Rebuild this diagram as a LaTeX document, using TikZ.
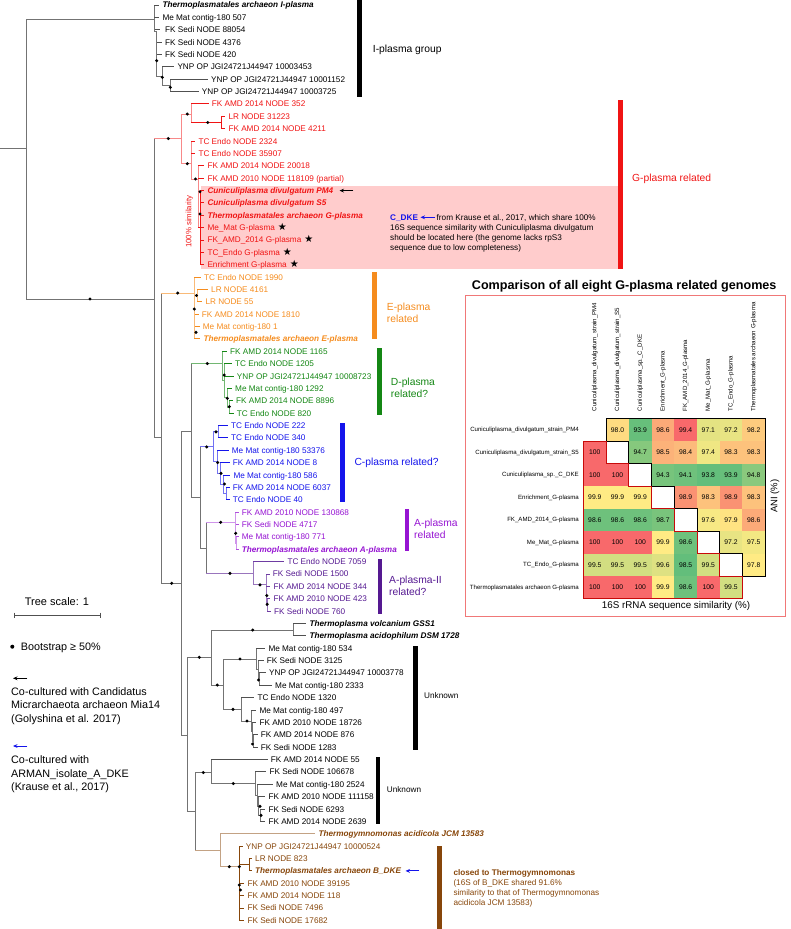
\documentclass[tikz,border=0pt]{standalone}
\usepackage{fontspec}
\setmainfont{Liberation Sans}
\newfontfamily\symfont{DejaVu Sans}
\usetikzlibrary{arrows.meta,calc}
\definecolor{cGray}{RGB}{80,80,80}
\definecolor{cRed}{RGB}{240,20,20}
\definecolor{cOrange}{RGB}{245,140,30}
\definecolor{cGreen}{RGB}{20,135,20}
\definecolor{cBlue}{RGB}{20,20,235}
\definecolor{cViolet}{RGB}{150,20,210}
\definecolor{cPurple}{RGB}{85,25,145}
\definecolor{cBrown}{RGB}{135,70,10}
\definecolor{cPink}{RGB}{255,204,204}
\definecolor{cFrame}{RGB}{240,120,120}
\definecolor{cDkRed}{RGB}{200,10,10}
\tikzset{
 br/.style={line width=1pt, line cap=rect},
 gI/.style={br,draw=cGray!80}, gT/.style={br,draw=cGray},
 rI/.style={br,draw=cRed!50}, rT/.style={br,draw=cRed},
 oI/.style={br,draw=cOrange!60}, oT/.style={br,draw=cOrange},
 dI/.style={br,draw=cGreen!60}, dT/.style={br,draw=cGreen},
 cI/.style={br,draw=cBlue!60}, cT/.style={br,draw=cBlue},
 aI/.style={br,draw=cViolet!45}, aT/.style={br,draw=cViolet!75},
 pI/.style={br,draw=cPurple!60}, pT/.style={br,draw=cPurple!85},
 bI/.style={br,draw=cBrown!50}, bT/.style={br,draw=cBrown},
 lab/.style={anchor=base west, inner sep=0pt, font=\fontsize{8.2}{9}\selectfont},
 bi/.style={font=\fontsize{8.2}{9}\selectfont\bfseries\itshape},
 rc/.style={text=cRed}, oc/.style={text=cOrange}, dc/.style={text=cGreen},
 cc/.style={text=cBlue}, ac/.style={text=cViolet}, pc/.style={text=cPurple}, bc/.style={text=cBrown},
 glab/.style={anchor=west, inner sep=0pt, align=left, font=\fontsize{10.3}{12.6}\selectfont},
 celltxt/.style={inner sep=0pt, font=\fontsize{6.8}{7}\selectfont},
 hlab/.style={inner sep=0pt, font=\fontsize{6.1}{7}\selectfont},
 leg/.style={anchor=base west, inner sep=0pt, font=\fontsize{10.8}{13}\selectfont},
 arrk/.style={line width=0.9pt, -{Stealth[length=4.5pt,width=3.8pt]}},
}
\newcommand\tedge[4]{\draw[#1] (#3) -- (#3 |- #4);\draw[#2] (#3 |- #4) -- (#4);}
\newcommand\tleaf[6]{\pgfmathsetmacro\ly{5+12.37*#2}\coordinate (#1) at (#3,\ly);\node[lab,#5] (#1t) at (#4,\ly+2.95) {#6};}
\newcommand\bsdot[2]{\fill[black] (#1,#2) circle (1.7);}
\newcommand\hmcell[6]{\fill[fill={rgb,255:red,#4;green,#5;blue,#6}] ({583.5+22.7*(#2-1)},{418.75+22.5*(#1-1)}) rectangle ({583.5+22.7*#2},{418.75+22.5*#1});\node[celltxt] (h#1#2) at ({583.5+22.7*(#2-0.5)},{418.75+22.5*(#1-0.5)}) {#3};}
\newcommand\blkstar{{\symfont\fontsize{10}{10}\selectfont ★}}
\begin{document}
\begin{tikzpicture}[x=1pt,y=-1pt]
\useasboundingbox (0,0) rectangle (790,929);
% pink box
\fill[cPink] (200.7,185.7) rectangle (618.3,269);
% root
\coordinate (Rs) at (0,148);
\coordinate (R0) at (26,148);
\draw[gI] (Rs) -- (R0);
\coordinate (I0) at (154.3,19);
\coordinate (A1) at (154.7,299);
\tedge{gI}{gI}{R0}{I0}
\tedge{gI}{gI}{R0}{A1}
% I clade
\coordinate (I1) at (156.7,31.7);
\coordinate (I2) at (162.3,76.2);
\coordinate (I3) at (170.3,85.4);
\tleaf{L0}{0}{158.8}{162.3}{bi}{Thermoplasmatales archaeon I-plasma}
\tleaf{L1}{1}{158.8}{162.3}{}{Me Mat contig-180 507}
\tleaf{L2}{2}{159}{165}{}{FK Sedi NODE 88054}
\tleaf{L3}{3}{161.5}{165}{}{FK Sedi NODE 4376}
\tleaf{L4}{4}{161.5}{165}{}{FK Sedi NODE 420}
\tleaf{L5}{5}{173.8}{177.3}{}{YNP OP JGI24721J44947 10003453}
\tleaf{L6}{6}{207.5}{211}{}{YNP OP JGI24721J44947 10001152}
\tleaf{L7}{7}{198.2}{201.7}{}{YNP OP JGI24721J44947 10003725}
\tedge{gI}{gT}{I0}{L0}
\tedge{gI}{gT}{I0}{L1}
\tedge{gI}{gT}{I0}{L2}
\tedge{gI}{gI}{I0}{I1}
\tedge{gI}{gT}{I1}{L3}
\tedge{gI}{gT}{I1}{L4}
\tedge{gI}{gI}{I1}{I2}
\tedge{gI}{gT}{I2}{L5}
\tedge{gI}{gI}{I2}{I3}
\tedge{gI}{gT}{I3}{L6}
\tedge{gI}{gT}{I3}{L7}
% G clade
\coordinate (G0) at (181.7,138.3);
\coordinate (Ga) at (191.7,114);
\coordinate (Gb) at (221.7,122.5);
\coordinate (Gc) at (191.7,163.7);
\coordinate (Gd) at (198.3,179);
\coordinate (Ge) at (200,227.7);
\tleaf{L8}{8}{208.2}{211.7}{rc}{FK AMD 2014 NODE 352}
\tleaf{L9}{9}{224.8}{228.3}{rc}{LR NODE 31223}
\tleaf{L10}{10}{224.8}{228.3}{rc}{FK AMD 2014 NODE 4211}
\tleaf{L11}{11}{194.8}{198.3}{rc}{TC Endo NODE 2324}
\tleaf{L12}{12}{194.8}{198.3}{rc}{TC Endo NODE 35907}
\tleaf{L13}{13}{203.8}{207.3}{rc}{FK AMD 2014 NODE 20018}
\tleaf{L14}{14}{203.8}{207.3}{rc}{FK AMD 2010 NODE 118109 (partial)}
\tleaf{L15}{15}{203.8}{207.3}{bi,rc}{Cuniculiplasma divulgatum PM4}
\tleaf{L16}{16}{203.8}{207.3}{bi,rc}{Cuniculiplasma divulgatum S5}
\tleaf{L17}{17}{203.8}{207.3}{bi,rc}{Thermoplasmatales archaeon G-plasma}
\tleaf{L18}{18}{203.8}{207.3}{rc}{Me\_Mat G-plasma\hspace{3pt}\textcolor{black}{\blkstar}}
\tleaf{L19}{19}{203.8}{207.3}{rc}{FK\_AMD\_2014 G-plasma\hspace{3pt}\textcolor{black}{\blkstar}}
\tleaf{L20}{20}{203.8}{207.3}{rc}{TC\_Endo G-plasma\hspace{3pt}\textcolor{black}{\blkstar}}
\tleaf{L21}{21}{203.8}{207.3}{rc}{Enrichment G-plasma\hspace{3pt}\textcolor{black}{\blkstar}}
\tedge{gI}{rI}{A1}{G0}
\tedge{rI}{rI}{G0}{Ga}
\tedge{rI}{rI}{G0}{Gc}
\tedge{rI}{rT}{Ga}{L8}
\tedge{rI}{rT}{Ga}{Gb}
\tedge{rT}{rT}{Gb}{L9}
\tedge{rT}{rT}{Gb}{L10}
\tedge{rI}{rT}{Gc}{L11}
\tedge{rI}{rT}{Gc}{L12}
\tedge{rI}{rI}{Gc}{Gd}
\tedge{rI}{rT}{Gd}{L13}
\tedge{rI}{rT}{Gd}{L14}
\tedge{rI}{rT}{Gd}{Ge}
\tedge{rT}{rT}{Ge}{L15}
\tedge{rT}{rT}{Ge}{L16}
\tedge{rT}{rT}{Ge}{L17}
\tedge{rT}{rT}{Ge}{L18}
\tedge{rT}{rT}{Ge}{L19}
\tedge{rT}{rT}{Ge}{L20}
\tedge{rT}{rT}{Ge}{L21}
\node[rotate=90, inner sep=0pt, text=cRed, font=\fontsize{7.8}{8}\selectfont] (sim) at (189.3,221.7) {100\% similarity};
\coordinate (pmA) at (353.3,190.6);
\coordinate (pmB) at (339.5,190.6);
\draw[arrk,black] (pmA) -- (pmB);
\node[lab,font=\fontsize{8.2}{9}\selectfont\bfseries,text=cBlue] (cdke) at (390,220.25) {C\_DKE};
\coordinate (cdA) at (435,217.3);
\coordinate (cdB) at (420.5,217.3);
\draw[arrk,cBlue] (cdA) -- (cdB);
\node[lab] (cdk1) at (436.5,220.25) {from Krause et al., 2017, which share 100\%};
\node[lab] (cdk2) at (390,230.4) {16S sequence similarity with Cuniculiplasma divulgatum};
\node[lab] (cdk3) at (390,240.6) {should be located here (the genome lacks rpS3};
\node[lab] (cdk4) at (390,250.8) {sequence due to low completeness)};
% E clade
\coordinate (A2) at (161.7,437);
\coordinate (E0) at (194.3,293);
\coordinate (Eb) at (197.7,295.7);
\tleaf{L22}{22}{200.5}{204}{oc}{TC Endo NODE 1990}
\tleaf{L23}{23}{207.5}{211}{oc}{LR NODE 4161}
\tleaf{L24}{24}{201.8}{205.3}{oc}{LR NODE 55}
\tleaf{L25}{25}{198.2}{201.7}{oc}{FK AMD 2014 NODE 1810}
\tleaf{L26}{26}{199.2}{202.7}{oc}{Me Mat contig-180 1}
\tleaf{L27}{27}{199.8}{203.3}{bi,oc}{Thermoplasmatales archaeon E-plasma}
\tedge{gI}{gI}{A1}{A2}
\tedge{gI}{oI}{A2}{E0}
\tedge{oI}{oT}{E0}{L22}
\tedge{oI}{oI}{E0}{Eb}
\tedge{oI}{oT}{Eb}{L23}
\tedge{oI}{oT}{Eb}{L24}
\tedge{oI}{oT}{E0}{L25}
\tedge{oI}{oT}{E0}{L26}
\tedge{oI}{oT}{E0}{L27}
% backbone
\coordinate (A3) at (181.7,583.3);
\coordinate (A4) at (191.7,431.7);
\coordinate (A5) at (187.3,735);
\tedge{gI}{gI}{A2}{A3}
\tedge{gI}{gI}{A3}{A4}
\tedge{gI}{gI}{A3}{A5}
% D clade
\coordinate (D0) at (222.7,363.5);
\coordinate (D1) at (224.7,380.7);
\coordinate (D2) at (227.3,397.7);
\coordinate (D3) at (229.3,407);
\tleaf{L28}{28}{226.5}{230}{dc}{FK AMD 2014 NODE 1165}
\tleaf{L29}{29}{231.5}{235}{dc}{TC Endo NODE 1205}
\tleaf{L30}{30}{233.2}{236.7}{dc}{YNP OP JGI24721J44947 10008723}
\tleaf{L31}{31}{231.5}{235}{dc}{Me Mat contig-180 1292}
\tleaf{L32}{32}{232.5}{236}{dc}{FK AMD 2014 NODE 8896}
\tleaf{L33}{33}{233.2}{236.7}{dc}{TC Endo NODE 820}
\tedge{gI}{dI}{A4}{D0}
\tedge{dI}{dT}{D0}{L28}
\tedge{dI}{dI}{D0}{D1}
\tedge{dI}{dT}{D1}{L29}
\tedge{dI}{dT}{D1}{L30}
\tedge{dI}{dI}{D1}{D2}
\tedge{dI}{dT}{D2}{L31}
\tedge{dI}{dI}{D2}{D3}
\tedge{dI}{dT}{D3}{L32}
\tedge{dI}{dT}{D3}{L33}
% C clade
\coordinate (A8) at (200,497.4);
\coordinate (C0) at (213.3,446.9);
\coordinate (Ca) at (218.3,431.8);
\coordinate (Cb) at (217.7,461.9);
\coordinate (Cc) at (220.5,473.5);
\coordinate (Cd) at (223.5,484.4);
\coordinate (Ce) at (226.5,493.6);
\tleaf{L34}{34}{227.5}{231}{cc}{TC Endo NODE 222}
\tleaf{L35}{35}{227.5}{231}{cc}{TC Endo NODE 340}
\tleaf{L36}{36}{228.2}{231.7}{cc}{Me Mat contig-180 53376}
\tleaf{L37}{37}{229.2}{232.7}{cc}{FK AMD 2014 NODE 8}
\tleaf{L38}{38}{229.8}{233.3}{cc}{Me Mat contig-180 586}
\tleaf{L39}{39}{229.2}{232.7}{cc}{FK AMD 2014 NODE 6037}
\tleaf{L40}{40}{229.2}{232.7}{cc}{TC Endo NODE 40}
\tedge{gI}{gI}{A4}{A8}
\tedge{gI}{cI}{A8}{C0}
\tedge{cI}{cI}{C0}{Ca}
\tedge{cI}{cI}{C0}{Cb}
\tedge{cI}{cT}{Ca}{L34}
\tedge{cI}{cT}{Ca}{L35}
\tedge{cI}{cT}{Cb}{L36}
\tedge{cI}{cI}{Cb}{Cc}
\tedge{cI}{cT}{Cc}{L37}
\tedge{cI}{cI}{Cc}{Cd}
\tedge{cI}{cT}{Cd}{L38}
\tedge{cI}{cI}{Cd}{Ce}
\tedge{cI}{cT}{Ce}{L39}
\tedge{cI}{cT}{Ce}{L40}
% A clade
\coordinate (A9) at (206.7,548);
\coordinate (Ap0) at (235,522.3);
\coordinate (Ap1) at (236.3,543.1);
\tleaf{L41}{41}{238.2}{241.7}{ac}{FK AMD 2010 NODE 130868}
\tleaf{L42}{42}{238.2}{241.7}{ac}{FK Sedi NODE 4717}
\tleaf{L43}{43}{238.2}{241.7}{ac}{Me Mat contig-180 771}
\tleaf{L44}{44}{238.2}{241.7}{bi,ac}{Thermoplasmatales archaeon A-plasma}
\tedge{gI}{gI}{A8}{A9}
\tedge{gI}{aI}{A9}{Ap0}
\tedge{aI}{aT}{Ap0}{L41}
\tedge{aI}{aT}{Ap0}{L42}
\tedge{aI}{aI}{Ap0}{Ap1}
\tedge{aI}{aT}{Ap1}{L43}
\tedge{aI}{aT}{Ap1}{L44}
% A-II clade
\coordinate (P0) at (253.3,573.3);
\coordinate (P1) at (266,584.9);
\coordinate (P2) at (266.8,595.7);
\coordinate (P3) at (267.5,605);
\tleaf{L45}{45}{283.8}{287.3}{pc}{TC Endo NODE 7059}
\tleaf{L46}{46}{269.2}{272.7}{pc}{FK Sedi NODE 1500}
\tleaf{L47}{47}{269.8}{273.3}{pc}{FK AMD 2014 NODE 344}
\tleaf{L48}{48}{269.8}{273.3}{pc}{FK AMD 2010 NODE 423}
\tleaf{L49}{49}{270.5}{274}{pc}{FK Sedi NODE 760}
\tedge{gI}{pI}{A9}{P0}
\tedge{pI}{pT}{P0}{L45}
\tedge{pI}{pI}{P0}{P1}
\tedge{pI}{pT}{P1}{L46}
\tedge{pI}{pI}{P1}{P2}
\tedge{pI}{pT}{P2}{L47}
\tedge{pI}{pI}{P2}{P3}
\tedge{pI}{pT}{P3}{L48}
\tedge{pI}{pT}{P3}{L49}
% lower part
\coordinate (A6) at (211.7,657.3);
\coordinate (A7) at (195,811.7);
\coordinate (T0) at (293.3,630);
\coordinate (U0) at (223.3,685);
\coordinate (Ua) at (256.7,659);
\coordinate (Ub) at (258,669.9);
\coordinate (Uc) at (259.5,679.2);
\coordinate (Ud) at (241.7,709.3);
\coordinate (Ue) at (251.7,721);
\coordinate (Uf) at (252.5,731.8);
\coordinate (Ug) at (253.3,741);
\tleaf{L50}{50}{305.8}{309.3}{bi}{Thermoplasma volcanium GSS1}
\tleaf{L51}{51}{305.8}{309.3}{bi}{Thermoplasma acidophilum DSM 1728}
\tleaf{L52}{52}{264.8}{268.3}{}{Me Mat contig-180 534}
\tleaf{L53}{53}{263.2}{266.7}{}{FK Sedi NODE 3125}
\tleaf{L54}{54}{265.5}{269}{}{YNP OP JGI24721J44947 10003778}
\tleaf{L55}{55}{271.5}{275}{}{Me Mat contig-180 2333}
\tleaf{L56}{56}{253.8}{257.3}{}{TC Endo NODE 1320}
\tleaf{L57}{57}{255.8}{259.3}{}{Me Mat contig-180 497}
\tleaf{L58}{58}{255.8}{259.3}{}{FK AMD 2010 NODE 18726}
\tleaf{L59}{59}{257.2}{260.7}{}{FK AMD 2014 NODE 876}
\tleaf{L60}{60}{257.2}{260.7}{}{FK Sedi NODE 1283}
\tedge{gI}{gI}{A5}{A6}
\tedge{gI}{gI}{A5}{A7}
\tedge{gI}{gI}{A6}{T0}
\tedge{gI}{gT}{T0}{L50}
\tedge{gI}{gT}{T0}{L51}
\tedge{gI}{gI}{A6}{U0}
\tedge{gI}{gI}{U0}{Ua}
\tedge{gI}{gT}{Ua}{L52}
\tedge{gI}{gI}{Ua}{Ub}
\tedge{gI}{gT}{Ub}{L53}
\tedge{gI}{gI}{Ub}{Uc}
\tedge{gI}{gT}{Uc}{L54}
\tedge{gI}{gT}{Uc}{L55}
\tedge{gI}{gI}{U0}{Ud}
\tedge{gI}{gT}{Ud}{L56}
\tedge{gI}{gI}{Ud}{Ue}
\tedge{gI}{gT}{Ue}{L57}
\tedge{gI}{gI}{Ue}{Uf}
\tedge{gI}{gT}{Uf}{L58}
\tedge{gI}{gI}{Uf}{Ug}
\tedge{gI}{gT}{Ug}{L59}
\tedge{gI}{gT}{Ug}{L60}
\coordinate (V0) at (211.7,772.5);
\coordinate (V1) at (255,783.5);
\coordinate (V2) at (257,795.2);
\coordinate (V3) at (258.5,806);
\coordinate (V4) at (260,815.3);
\tleaf{L61}{61}{267.2}{270.7}{}{FK AMD 2014 NODE 55}
\tleaf{L62}{62}{265.8}{269.3}{}{FK Sedi NODE 106678}
\tleaf{L63}{63}{272.5}{276}{}{Me Mat contig-180 2524}
\tleaf{L64}{64}{264.8}{268.3}{}{FK AMD 2010 NODE 111158}
\tleaf{L65}{65}{264.8}{268.3}{}{FK Sedi NODE 6293}
\tleaf{L66}{66}{264.8}{268.3}{}{FK AMD 2014 NODE 2639}
\tedge{gI}{gI}{A7}{V0}
\tedge{gI}{gT}{V0}{L61}
\tedge{gI}{gI}{V0}{V1}
\tedge{gI}{gT}{V1}{L62}
\tedge{gI}{gI}{V1}{V2}
\tedge{gI}{gT}{V2}{L63}
\tedge{gI}{gI}{V2}{V3}
\tedge{gI}{gT}{V3}{L64}
\tedge{gI}{gI}{V3}{V4}
\tedge{gI}{gT}{V4}{L65}
\tedge{gI}{gT}{V4}{L66}
\coordinate (W0) at (220,850);
\coordinate (W1) at (239.3,866.7);
\coordinate (W2) at (249.3,864.7);
\tleaf{L67}{67}{314.8}{318.3}{bi,bc}{Thermogymnomonas acidicola JCM 13583}
\tleaf{L68}{68}{242.2}{245.7}{bc}{YNP OP JGI24721J44947 10000524}
\tleaf{L69}{69}{251.5}{255}{bc}{LR NODE 823}
\tleaf{L70}{70}{251.5}{255}{bi,bc}{Thermoplasmatales archaeon B\_DKE}
\tleaf{L71}{71}{243.8}{247.3}{bc}{FK AMD 2010 NODE 39195}
\tleaf{L72}{72}{243.8}{247.3}{bc}{FK AMD 2014 NODE 118}
\tleaf{L73}{73}{243.8}{247.3}{bc}{FK Sedi NODE 7496}
\tleaf{L74}{74}{243.8}{247.3}{bc}{FK Sedi NODE 17682}
\tedge{gI}{bI}{A7}{W0}
\tedge{bI}{bI}{W0}{L67}
\tedge{bI}{bI}{W0}{W1}
\tedge{bT}{bT}{W1}{L68}
\tedge{bT}{bT}{W1}{W2}
\tedge{bT}{bT}{W2}{L69}
\tedge{bT}{bT}{W2}{L70}
\tedge{bT}{bT}{W1}{L71}
\tedge{bT}{bT}{W1}{L72}
\tedge{bT}{bT}{W1}{L73}
\tedge{bT}{bT}{W1}{L74}
\coordinate (bdA) at (419.3,870.9);
\coordinate (bdB) at (405.5,870.9);
\draw[arrk,cBlue] (bdA) -- (bdB);
% bootstrap dots
\bsdot{90}{299}
\bsdot{156.7}{60.7}\bsdot{162.3}{77.3}\bsdot{170.3}{87.3}
\bsdot{168.3}{138.5}\bsdot{187.3}{114}\bsdot{207.7}{122.5}\bsdot{187.3}{163.7}\bsdot{195.5}{179}\bsdot{200}{191.7}\bsdot{200}{214}
\bsdot{177.7}{293}\bsdot{196.5}{295.5}\bsdot{194.3}{309}\bsdot{196}{332.3}
\bsdot{207.3}{363.5}\bsdot{224.2}{375}\bsdot{227.3}{398.3}\bsdot{229.3}{406.7}
\bsdot{206.7}{446.9}\bsdot{216}{431.8}\bsdot{217.7}{462.5}\bsdot{221}{473.3}\bsdot{224.5}{484}
\bsdot{220.7}{522.3}\bsdot{235.7}{533.3}
\bsdot{230}{573.3}\bsdot{260}{584.9}\bsdot{266.8}{595.5}\bsdot{267.2}{604.3}
\bsdot{171.7}{583.3}
\bsdot{252.7}{630}\bsdot{199.3}{657.3}\bsdot{217.3}{685}\bsdot{240}{659}\bsdot{258.5}{680}\bsdot{233}{709.3}\bsdot{247}{721}\bsdot{252.5}{744}
\bsdot{203.3}{772.5}\bsdot{233.3}{783.5}\bsdot{260}{806.3}\bsdot{261}{815.3}
\bsdot{229.3}{866.7}\bsdot{239.3}{866.7}\bsdot{239.3}{885}\bsdot{240.5}{890}
% group bars and labels
\fill[black] (357,0) rectangle (362,97);
\node[glab] (gIlab) at (372.7,50) {I-plasma group};
\fill[cRed] (618.3,100) rectangle (623.3,269);
\node[glab,text=cRed] (gG) at (632,178.5) {G-plasma related};
\fill[cOrange] (371.7,271.7) rectangle (376.7,339.3);
\node[glab,text=cOrange] (gE) at (386.7,313) {E-plasma\\related};
\fill[cGreen] (376.7,348.3) rectangle (381.7,415);
\node[glab,text=cGreen] (gD) at (390.7,388) {D-plasma\\related?};
\fill[cBlue] (340,422.7) rectangle (345,501.7);
\node[glab,text=cBlue] (gC) at (354.3,463.3) {C-plasma related?};
\fill[cViolet] (405,509.3) rectangle (409.3,550.7);
\node[glab,text=cViolet] (gA) at (414,529) {A-plasma\\related};
\fill[cPurple] (378.3,559.3) rectangle (382.3,614);
\node[glab,text=cPurple] (gA2) at (389,585.8) {A-plasma-II\\related?};
\fill[black] (413.3,646) rectangle (418.3,750);
\node[glab,font=\fontsize{8.2}{9}\selectfont] (gU1) at (424,695.7) {Unknown};
\fill[black] (375.7,757.3) rectangle (380.3,824.3);
\node[glab,font=\fontsize{8.2}{9}\selectfont] (gU2) at (386.7,790) {Unknown};
\fill[cBrown] (436.7,846) rectangle (441.7,929);
\node[lab,font=\fontsize{8.2}{9}\selectfont\bfseries,text=cBrown] (bk1) at (453.3,875.6) {closed to Thermogymnomonas};
\node[lab,text=cBrown] (bk2) at (453.3,885.6) {(16S of B\_DKE shared 91.6\%};
\node[lab,text=cBrown] (bk3) at (453.3,895.6) {similarity to that of Thermogymnomonas};
\node[lab,text=cBrown] (bk4) at (453.3,905.6) {acidicola JCM 13583)};
% legend
\node[inner sep=0pt,font=\fontsize{11}{13}\selectfont] (ts) at (57,602) {Tree scale: 1};
\coordinate (sb1) at (14.3,615.7);
\coordinate (sb2) at (100,615.7);
\draw[line width=0.8pt,cGray] (sb1) -- (sb2);
\draw[line width=0.8pt,cGray] ($(sb1)+(0,-3)$) -- ($(sb1)+(0,2)$);
\draw[line width=0.8pt,cGray] ($(sb2)+(0,-3)$) -- ($(sb2)+(0,2)$);
\fill[black] (12.3,646.7) circle (2);
\node[leg] (bsl) at (20.7,650.6) {Bootstrap ≥ 50\%};
\coordinate (lgA) at (27.3,678.3);
\coordinate (lgB) at (13,678.3);
\draw[arrk,black] (lgA) -- (lgB);
\node[leg] (lg1) at (11,695.6) {Co-cultured with Candidatus};
\node[leg] (lg2) at (11,708.9) {Micrarchaeota archaeon Mia14};
\node[leg] (lg3) at (11,722.2) {(Golyshina et al. 2017)};
\coordinate (lgC) at (27.3,746);
\coordinate (lgD) at (13,746);
\draw[arrk,cBlue] (lgC) -- (lgD);
\node[leg] (lg4) at (11,763.9) {Co-cultured with};
\node[leg] (lg5) at (11,777.2) {ARMAN\_isolate\_A\_DKE};
\node[leg] (lg6) at (11,790.5) {(Krause et al., 2017)};
% heatmap
\node[inner sep=0pt,font=\fontsize{12.6}{14}\selectfont\bfseries] (htitle) at (624.2,286) {Comparison of all eight G-plasma related genomes};
\draw[cFrame,line width=0.8pt] (465.5,295.7) rectangle (785,616);
\hmcell{1}{2}{98.0}{254}{219}{129}\hmcell{1}{3}{93.9}{103}{191}{123}\hmcell{1}{4}{98.6}{252}{170}{120}\hmcell{1}{5}{99.4}{248}{105}{107}\hmcell{1}{6}{97.1}{228}{227}{130}\hmcell{1}{7}{97.2}{232}{228}{131}\hmcell{1}{8}{98.2}{253}{203}{126}
\hmcell{2}{1}{100}{248}{105}{107}\hmcell{2}{3}{94.7}{134}{200}{125}\hmcell{2}{4}{98.5}{252}{178}{121}\hmcell{2}{5}{98.4}{252}{186}{123}\hmcell{2}{6}{97.4}{239}{231}{131}\hmcell{2}{7}{98.3}{253}{194}{124}\hmcell{2}{8}{98.3}{253}{194}{124}
\hmcell{3}{1}{100}{248}{105}{107}\hmcell{3}{2}{100}{248}{105}{107}\hmcell{3}{4}{94.3}{119}{196}{124}\hmcell{3}{5}{94.1}{111}{193}{124}\hmcell{3}{6}{93.8}{99}{190}{123}\hmcell{3}{7}{93.9}{103}{191}{123}\hmcell{3}{8}{94.8}{138}{201}{125}
\hmcell{4}{1}{99.9}{255}{235}{132}\hmcell{4}{2}{99.9}{255}{235}{132}\hmcell{4}{3}{99.9}{255}{235}{132}\hmcell{4}{5}{98.9}{250}{146}{115}\hmcell{4}{6}{98.3}{253}{194}{124}\hmcell{4}{7}{98.9}{250}{146}{115}\hmcell{4}{8}{98.3}{253}{194}{124}
\hmcell{5}{1}{98.6}{110}{193}{124}\hmcell{5}{2}{98.6}{110}{193}{124}\hmcell{5}{3}{98.6}{110}{193}{124}\hmcell{5}{4}{98.7}{121}{196}{124}\hmcell{5}{6}{97.6}{247}{233}{132}\hmcell{5}{7}{97.9}{255}{227}{130}\hmcell{5}{8}{98.6}{252}{170}{120}
\hmcell{6}{1}{100}{248}{105}{107}\hmcell{6}{2}{100}{248}{105}{107}\hmcell{6}{3}{100}{248}{105}{107}\hmcell{6}{4}{99.9}{255}{235}{132}\hmcell{6}{5}{98.6}{110}{193}{124}\hmcell{6}{7}{97.2}{232}{228}{131}\hmcell{6}{8}{97.5}{243}{232}{131}
\hmcell{7}{1}{99.5}{210}{222}{129}\hmcell{7}{2}{99.5}{210}{222}{129}\hmcell{7}{3}{99.5}{210}{222}{129}\hmcell{7}{4}{99.6}{222}{225}{130}\hmcell{7}{5}{98.5}{99}{190}{123}\hmcell{7}{6}{99.5}{210}{222}{129}\hmcell{7}{8}{97.8}{255}{235}{132}
\hmcell{8}{1}{100}{248}{105}{107}\hmcell{8}{2}{100}{248}{105}{107}\hmcell{8}{3}{100}{248}{105}{107}\hmcell{8}{4}{99.9}{255}{235}{132}\hmcell{8}{5}{98.6}{110}{193}{124}\hmcell{8}{6}{100}{248}{105}{107}\hmcell{8}{7}{99.5}{210}{222}{129}
\draw[black,line width=1pt] (606.2,418.75) -- (765.1,418.75) -- (765.1,576.25) -- (742.4,576.25) -- (742.4,553.75) -- (719.7,553.75) -- (719.7,531.25) -- (697,531.25) -- (697,508.75) -- (674.3,508.75) -- (674.3,486.25) -- (651.6,486.25) -- (651.6,463.75) -- (628.9,463.75) -- (628.9,441.25) -- (606.2,441.25) -- cycle;
\draw[cDkRed,line width=1pt] (583.5,441.25) -- (606.2,441.25) -- (606.2,463.75) -- (628.9,463.75) -- (628.9,486.25) -- (651.6,486.25) -- (651.6,508.75) -- (674.3,508.75) -- (674.3,531.25) -- (697,531.25) -- (697,553.75) -- (719.7,553.75) -- (719.7,576.25) -- (742.4,576.25) -- (742.4,598.75) -- (583.5,598.75) -- cycle;
\node[hlab,anchor=east] (r1) at (579,430) {Cuniculiplasma\_divulgatum\_strain\_PM4};
\node[hlab,anchor=east] (r2) at (579,452.5) {Cuniculiplasma\_divulgatum\_strain\_S5};
\node[hlab,anchor=east] (r3) at (579,475) {Cuniculiplasma\_sp.\_C\_DKE};
\node[hlab,anchor=east] (r4) at (579,497.5) {Enrichment\_G-plasma};
\node[hlab,anchor=east] (r5) at (579,520) {FK\_AMD\_2014\_G-plasma};
\node[hlab,anchor=east] (r6) at (579,542.5) {Me\_Mat\_G-plasma};
\node[hlab,anchor=east] (r7) at (579,565) {TC\_Endo\_G-plasma};
\node[hlab,anchor=east] (r8) at (579,587.5) {Thermoplasmatales archaeon G-plasma};
\node[hlab,anchor=west,rotate=90] (k1) at (594.85,411.5) {Cuniculiplasma\_divulgatum\_strain\_PM4};
\node[hlab,anchor=west,rotate=90] (k2) at (617.55,411.5) {Cuniculiplasma\_divulgatum\_strain\_S5};
\node[hlab,anchor=west,rotate=90] (k3) at (640.25,411.5) {Cuniculiplasma\_sp.\_C\_DKE};
\node[hlab,anchor=west,rotate=90] (k4) at (662.95,411.5) {Enrichment\_G-plasma};
\node[hlab,anchor=west,rotate=90] (k5) at (685.65,411.5) {FK\_AMD\_2014\_G-plasma};
\node[hlab,anchor=west,rotate=90] (k6) at (708.35,411.5) {Me\_Mat\_G-plasma};
\node[hlab,anchor=west,rotate=90] (k7) at (731.05,411.5) {TC\_Endo\_G-plasma};
\node[hlab,anchor=west,rotate=90] (k8) at (753.75,411.5) {Thermoplasmatales archaeon G-plasma};
\node[inner sep=0pt,rotate=90,font=\fontsize{9.5}{10}\selectfont] (ani) at (775,496) {ANI (\%)};
\node[inner sep=0pt,font=\fontsize{9.8}{10}\selectfont] (s16) at (676,606) {16S rRNA sequence similarity (\%)};
\end{tikzpicture}
\end{document}
